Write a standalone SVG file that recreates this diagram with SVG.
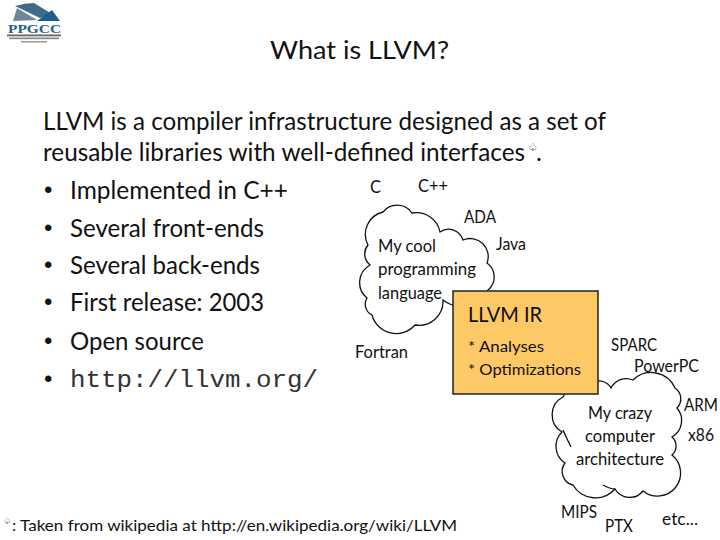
<svg xmlns="http://www.w3.org/2000/svg" width="720" height="540" viewBox="0 0 720 540">
<style>
text{font-family:"Lato","Carlito","Liberation Sans",sans-serif;fill:#111}
.b{font-size:24.5px}
.d{font-family:"Liberation Sans",sans-serif;font-size:24px}
.s{font-size:16.5px}
.c{font-size:16.5px;text-anchor:middle}
.m{font-family:"Liberation Mono",monospace;font-size:24px;fill:#333}
.cl{fill:#fff;stroke:#111;stroke-width:1.3}
.in{fill:none;stroke:#111;stroke-width:1.3}
.g{font-family:"DejaVu Sans",sans-serif;font-size:11px;fill:#000}
</style>
<rect width="720" height="540" fill="#fff"/>
<g id="logo">
<path d="M13 21L17 8L37 20Z" fill="#6f8698"/>
<path d="M15 6Q25 3 34 3L52 14L40 18Z" fill="#3f6b88"/>
<path d="M37 21L52 10L60 21Z" fill="#1f5f8b"/>
<text x="8" y="33" font-size="13" font-weight="700" textLength="53" lengthAdjust="spacingAndGlyphs" style="font-family:'Liberation Serif',serif;fill:#2a5f86">PPGCC</text>
<rect x="7" y="34.500" width="54" height="1.800" fill="#666"/>
<rect x="9" y="37.500" width="50" height="1.700" fill="#888"/>
<rect x="21" y="41" width="26" height="1.500" fill="#999"/>
</g>
<text x="270" y="59" font-size="24.500" textLength="179" lengthAdjust="spacingAndGlyphs">What is LLVM?</text>
<text x="43" y="129.500" class="b" textLength="563" lengthAdjust="spacingAndGlyphs">LLVM is a compiler infrastructure designed as a set of</text>
<text x="43" y="160.500" class="b" textLength="482" lengthAdjust="spacingAndGlyphs">reusable libraries with well-defined interfaces</text>
<text x="528" y="151" class="g">♤</text>
<text x="536" y="160.500" class="b">.</text>
<g id="bullets">
<text x="44" y="198" class="d">•</text><text x="70" y="198.500" class="b" textLength="218" lengthAdjust="spacingAndGlyphs">Implemented in C++</text>
<text x="44" y="236" class="d">•</text><text x="70" y="236.500" class="b" textLength="194" lengthAdjust="spacingAndGlyphs">Several front-ends</text>
<text x="44" y="273" class="d">•</text><text x="70" y="273.500" class="b" textLength="190" lengthAdjust="spacingAndGlyphs">Several back-ends</text>
<text x="44" y="310" class="d">•</text><text x="70" y="310.500" class="b" textLength="194" lengthAdjust="spacingAndGlyphs">First release: 2003</text>
<text x="44" y="349" class="d">•</text><text x="70" y="349.500" class="b" textLength="134" lengthAdjust="spacingAndGlyphs">Open source</text>
<text x="44" y="387" class="d">•</text><text x="70" y="387" class="m" textLength="248" lengthAdjust="spacingAndGlyphs">http://llvm.org/</text>
</g>
<g id="cloud-language">
<path class="cl" d="M368 245A23 23 0 0 1 383 212A18 18 0 0 1 412 213A24 24 0 0 1 440 232A15 15 0 0 1 463 240A18 18 0 0 1 487 263A17 17 0 0 1 488 290A30 30 0 0 1 443 300A24 24 0 0 1 415 325A25 25 0 0 1 372 315A12 12 0 0 1 367 298A20 20 0 0 1 370 265A14 14 0 0 1 368 245Z"/>
<text x="378" y="251.500" class="s" textLength="58" lengthAdjust="spacingAndGlyphs">My cool</text>
<text x="378" y="274.500" class="s" textLength="98" lengthAdjust="spacingAndGlyphs">programming</text>
<text x="378" y="298.500" class="s" textLength="64" lengthAdjust="spacingAndGlyphs">language</text>
</g>
<g id="cloud-architecture">
<path class="cl" d="M590 384A14 14 0 0 1 611 388A17 17 0 0 1 633 380A26 26 0 0 1 675 388A13 13 0 0 1 677 408A19 19 0 0 1 672 437A12 12 0 0 1 672 455A22 22 0 0 1 643 491A17 17 0 0 1 615 489A26 26 0 0 1 573 485A14 14 0 0 1 565 463A20 20 0 0 1 562 432A20 20 0 0 1 563 397A25 25 0 0 1 590 384Z"/>
<path class="in" d="M563 430Q568 441 571 447M603 485Q610 489 615 489"/>
<text x="620" y="418.500" class="c" textLength="64" lengthAdjust="spacingAndGlyphs">My crazy</text>
<text x="620" y="441.500" class="c" textLength="70" lengthAdjust="spacingAndGlyphs">computer</text>
<text x="620" y="464.500" class="c" textLength="88" lengthAdjust="spacingAndGlyphs">architecture</text>
</g>
<g id="llvm-ir">
<rect x="453" y="291" width="145" height="103" fill="#fdc866" stroke="#222" stroke-width="1.500"/>
<text x="468" y="322" font-size="20.500" textLength="74" lengthAdjust="spacingAndGlyphs">LLVM IR</text>
<text x="468" y="352" font-size="15.500" textLength="76" lengthAdjust="spacingAndGlyphs">* Analyses</text>
<text x="468" y="375" font-size="15.500" textLength="113" lengthAdjust="spacingAndGlyphs">* Optimizations</text>
</g>
<g id="labels">
<text x="370" y="192.500" class="s">C</text>
<text x="418" y="191.500" class="s" textLength="30" lengthAdjust="spacingAndGlyphs">C++</text>
<text x="464" y="222.500" class="s" textLength="32" lengthAdjust="spacingAndGlyphs">ADA</text>
<text x="496" y="249.500" class="s" textLength="30" lengthAdjust="spacingAndGlyphs">Java</text>
<text x="355" y="357.500" class="s" textLength="53" lengthAdjust="spacingAndGlyphs">Fortran</text>
<text x="611" y="350.500" class="s" textLength="46" lengthAdjust="spacingAndGlyphs">SPARC</text>
<text x="634" y="371.500" class="s" textLength="65" lengthAdjust="spacingAndGlyphs">PowerPC</text>
<text x="684" y="410.500" class="s" textLength="34" lengthAdjust="spacingAndGlyphs">ARM</text>
<text x="688" y="440.500" class="s" textLength="26" lengthAdjust="spacingAndGlyphs">x86</text>
<text x="561" y="518" class="s" textLength="36" lengthAdjust="spacingAndGlyphs">MIPS</text>
<text x="605" y="532" class="s" textLength="28" lengthAdjust="spacingAndGlyphs">PTX</text>
<text x="662" y="525" class="s" textLength="36" lengthAdjust="spacingAndGlyphs">etc...</text>
</g>
<g id="footnote">
<text x="3" y="524" class="g" style="font-size:9px">♤</text>
<text x="12" y="531" font-size="16" textLength="445" lengthAdjust="spacingAndGlyphs">: Taken from wikipedia at http://en.wikipedia.org/wiki/LLVM</text>
</g>
</svg>
